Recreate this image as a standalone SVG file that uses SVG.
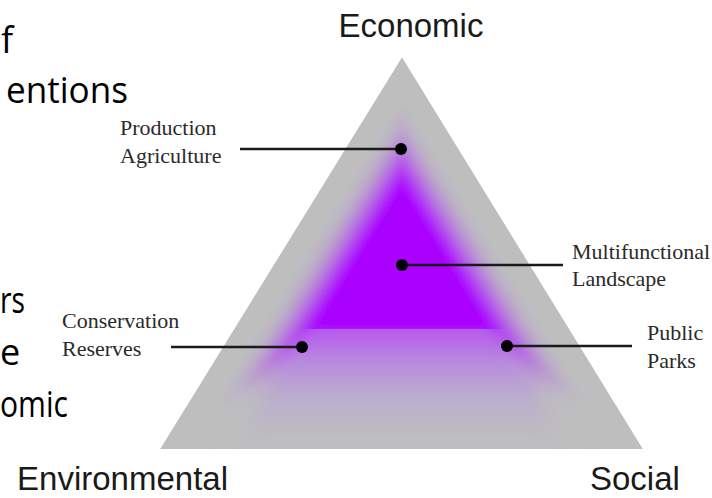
<svg xmlns="http://www.w3.org/2000/svg" width="712" height="498" viewBox="0 0 712 498">
  <style>
    .axis { font-family: "Liberation Sans", Arial, sans-serif; font-size: 33px; fill: #1a1a1a; }
    .lbl { font-family: "Liberation Serif", "Times New Roman", serif; font-size: 22px; fill: #2a2a2a; }
    .slide { font-family: "Open Sans", "Noto Sans", sans-serif; font-size: 36px; fill: #000; }
    .conn { stroke: #1a1a1a; stroke-width: 2.5; fill: none; }
    .dot { fill: #000; }
  </style>
  <defs>
    <clipPath id="triClip"><polygon points="402,57 160,449 643,449"/></clipPath>
    <clipPath id="belowClip"><rect x="0" y="329" width="712" height="170"/></clipPath>
    <filter id="soft" x="-20%" y="-20%" width="140%" height="140%"><feGaussianBlur stdDeviation="5"/></filter>
    <filter id="soft2" x="-20%" y="-20%" width="140%" height="140%"><feGaussianBlur stdDeviation="8"/></filter>
    <linearGradient id="bandGrad" x1="0" y1="329" x2="0" y2="440" gradientUnits="userSpaceOnUse">
      <stop offset="0" stop-color="#b656ee"/>
      <stop offset="0.3" stop-color="#b88bdd"/>
      <stop offset="0.65" stop-color="#bbb0cb"/>
      <stop offset="1" stop-color="#bebebf"/>
    </linearGradient>
  </defs>

  <g id="slide-text">
    <text class="slide" x="1" y="53">f</text>
    <text class="slide" x="6" y="103" textLength="122" lengthAdjust="spacingAndGlyphs">entions</text>
    <text class="slide" x="0" y="313" textLength="25" lengthAdjust="spacingAndGlyphs">rs</text>
    <text class="slide" x="0" y="365">e</text>
    <text class="slide" x="0" y="417" textLength="68" lengthAdjust="spacingAndGlyphs">omic</text>
  </g>

  <g id="triangle" clip-path="url(#triClip)">
    <polygon points="402,57 160,449 643,449" fill="#bebebf"/>
    <g filter="url(#soft)">
      <polygon points="401.9,100.6 213.1,406.4 589.8,406.4" fill="#bdbcc0"/>
      <polygon points="401.9,108.6 222.8,398.7 580.2,398.7" fill="#bdb8c3"/>
      <polygon points="401.9,116.5 232.4,390.9 570.6,390.9" fill="#bcb0c7"/>
      <polygon points="401.8,124.5 242.1,383.2 560.9,383.2" fill="#bba3cc"/>
      <polygon points="401.8,132.4 251.8,375.4 551.2,375.4" fill="#b994d2"/>
      <polygon points="401.8,140.3 261.4,367.7 541.6,367.7" fill="#b87fda"/>
      <polygon points="401.8,148.3 271.1,359.9 531.9,359.9" fill="#b66be2"/>
      <polygon points="401.8,156.2 280.8,352.2 522.3,352.2" fill="#b453eb"/>
      <polygon points="401.7,164.1 290.4,344.5 512.6,344.5" fill="#b139f4"/>
      <polygon points="401.7,172.1 300.1,336.7 502.9,336.7" fill="#ad1cfa"/>
      <polygon points="401.7,180.0 309.7,329.0 493.3,329.0" fill="#aa00ff"/>
    </g>
    <g clip-path="url(#belowClip)">
      <polygon points="316,310 487,310 578,460 225,460" fill="url(#bandGrad)" filter="url(#soft2)"/>
    </g>
  </g>

  <g id="axis-economic"><text class="axis" x="411" y="37" text-anchor="middle">Economic</text></g>
  <g id="axis-environmental"><text class="axis" x="228" y="490" text-anchor="end">Environmental</text></g>
  <g id="axis-social"><text class="axis" x="590" y="490">Social</text></g>

  <g id="connectors">
    <line class="conn" x1="240" y1="149" x2="401" y2="149"/>
    <line class="conn" x1="402" y1="265" x2="563" y2="265"/>
    <line class="conn" x1="171" y1="347" x2="302" y2="347"/>
    <line class="conn" x1="507" y1="346" x2="632" y2="346"/>
  </g>

  <g id="production-agriculture">
    <circle class="dot" cx="401" cy="149" r="6"/>
    <text class="lbl" x="120" y="135">Production</text>
    <text class="lbl" x="120" y="163">Agriculture</text>
  </g>
  <g id="multifunctional-landscape">
    <circle class="dot" cx="402" cy="265" r="6"/>
    <text class="lbl" x="572" y="259">Multifunctional</text>
    <text class="lbl" x="572" y="286">Landscape</text>
  </g>
  <g id="conservation-reserves">
    <circle class="dot" cx="302" cy="347" r="6"/>
    <text class="lbl" x="62" y="328">Conservation</text>
    <text class="lbl" x="62" y="356">Reserves</text>
  </g>
  <g id="public-parks">
    <circle class="dot" cx="507" cy="346" r="6"/>
    <text class="lbl" x="647" y="340">Public</text>
    <text class="lbl" x="647" y="368">Parks</text>
  </g>
</svg>
